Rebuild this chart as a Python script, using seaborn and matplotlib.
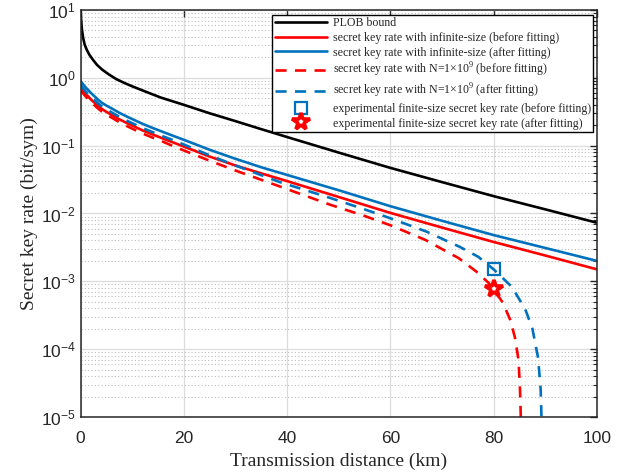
import numpy as np
import pandas as pd
import matplotlib
matplotlib.use("Agg")
import matplotlib.pyplot as plt
import seaborn as sns
from matplotlib.ticker import LogLocator, FixedLocator, NullFormatter

# ---------------- data ----------------
plob_d = [0, 0.1, 0.25, 0.5, 0.8, 1.2, 1.7, 2.4, 3.2, 4.2, 5.5, 7, 8.5, 10, 12.5, 15.6, 20, 25, 30, 35,
          40, 50, 60, 70, 80, 90, 100]
plob_r = [10, 7.5, 5.3, 3.9, 3.1, 2.6, 2.2, 1.85, 1.55, 1.32, 1.12, 0.95, 0.84, 0.75, 0.63, 0.51, 0.40,
          0.30, 0.23, 0.175, 0.134, 0.079, 0.047, 0.029, 0.018, 0.0115, 0.0073]

inf_d = [0, 0.5, 1, 1.5, 2, 2.7, 3.4, 4.2, 5, 6, 7.5, 9, 10.5, 12, 14, 16, 18, 20, 25, 30, 35, 40, 50,
         60, 70, 80, 90, 100]
inf_before = [0.72, 0.64, 0.58, 0.53, 0.48, 0.43, 0.385, 0.345, 0.315, 0.285, 0.245, 0.215, 0.19, 0.168,
              0.146, 0.127, 0.111, 0.097, 0.069, 0.051, 0.039, 0.030, 0.0175, 0.0102, 0.0062, 0.0038,
              0.0024, 0.0015]
inf_after = [0.90, 0.80, 0.72, 0.66, 0.60, 0.535, 0.475, 0.425, 0.39, 0.355, 0.305, 0.268, 0.237, 0.21,
             0.182, 0.159, 0.139, 0.122, 0.087, 0.064, 0.048, 0.037, 0.022, 0.0128, 0.0078, 0.0048,
             0.0031, 0.0020]

fin_b_d = [0, 0.5, 1, 1.5, 2, 2.7, 3.4, 4.2, 5, 6, 7.5, 9, 10.5, 12, 14, 16, 18, 20, 25, 30, 38.6, 48.3,
           55, 60, 66.7, 73.2, 76.6, 79, 80, 81.8, 83.2, 84.1, 84.8, 85.1, 85.25]
fin_before = [0.66, 0.59, 0.53, 0.485, 0.44, 0.395, 0.352, 0.315, 0.288, 0.26, 0.222, 0.194, 0.171, 0.151,
              0.131, 0.114, 0.098, 0.085, 0.060, 0.043, 0.025, 0.0135, 0.0092, 0.0067, 0.0041, 0.0022,
              0.0014, 0.00095, 0.00076, 0.00048, 0.00027, 0.00015, 0.00007, 0.000025, 0.00001]

fin_a_d = [0, 0.5, 1, 1.5, 2, 2.7, 3.4, 4.2, 5, 6, 7.5, 9, 10.5, 12, 14, 16, 18, 20, 25, 30, 38.6, 48.3,
           55, 60, 67, 73.5, 77, 80, 83.5, 86.1, 87.5, 88.6, 89.1, 89.25]
fin_after = [0.78, 0.70, 0.63, 0.575, 0.525, 0.47, 0.42, 0.375, 0.345, 0.31, 0.267, 0.233, 0.206, 0.182,
             0.158, 0.137, 0.12, 0.104, 0.072, 0.051, 0.029, 0.017, 0.0115, 0.0085, 0.0054, 0.0032,
             0.0023, 0.0015, 0.00083, 0.00039, 0.0002, 0.000074, 0.000025, 0.00001]

exp_d = [80]
exp_before = [1.5e-3]
exp_after = [7.6e-4]

labels = [
    "PLOB bound",
    "secret key rate with infinite-size (before fitting)",
    "secret key rate with infinite-size (after fitting)",
    "secret key rate with N=1×10$^{\\mathdefault{9}}$ (before fitting)",
    "secret key rate with N=1×10$^{\\mathdefault{9}}$ (after fitting)",
    "experimental finite-size secret key rate (before fitting)",
    "experimental finite-size secret key rate (after fitting)",
]

RED = "#FF0000"
BLUE = "#0072BD"
BLACK = "#000000"

# ---------------- plotting ----------------
sns.set_style("white")
plt.rcParams["font.family"] = ["Liberation Sans", "DejaVu Sans"]

fig = plt.figure(figsize=(6.32, 4.76), dpi=100)
ax = fig.add_axes([0.1274, 0.124, 0.8172, 0.855])

lw = 1.9
dash = (0, (4.2, 3.2))

sns.lineplot(x=plob_d, y=plob_r, color=BLACK, lw=lw, ax=ax, label=labels[0])
sns.lineplot(x=inf_d, y=inf_before, color=RED, lw=lw, ax=ax, label=labels[1])
sns.lineplot(x=inf_d, y=inf_after, color=BLUE, lw=lw, ax=ax, label=labels[2])
sns.lineplot(x=fin_b_d, y=fin_before, color=RED, lw=lw, linestyle=dash, ax=ax, label=labels[3])
sns.lineplot(x=fin_a_d, y=fin_after, color=BLUE, lw=lw, linestyle=dash, ax=ax, label=labels[4])
sns.lineplot(x=exp_d, y=exp_before, color=BLUE, marker="s", markersize=8, markerfacecolor="none",
             markeredgecolor=BLUE, markeredgewidth=1.6, linestyle="none", ax=ax, label=labels[5])
sns.lineplot(x=exp_d, y=exp_after, color=RED, marker="*", markersize=13, markerfacecolor="white",
             markeredgecolor=RED, markeredgewidth=2.6, linestyle="none", ax=ax, label=labels[6])

ax.set_yscale("log")
ax.set_xlim(0, 100)
ax.set_ylim(1e-5, 10)
ax.xaxis.set_major_locator(FixedLocator([0, 20, 40, 60, 80, 100]))
ax.yaxis.set_major_locator(LogLocator(base=10, numticks=10))
ax.yaxis.set_minor_locator(LogLocator(base=10, subs=np.arange(2, 10), numticks=20))
ax.yaxis.set_minor_formatter(NullFormatter())

ax.grid(True, which="major", axis="both", color="#dcdcdc", lw=0.9, ls="-")
ax.grid(True, which="minor", axis="y", color="#bdbdbd", lw=0.8, ls=(0, (1, 2)))
ax.set_axisbelow(True)

for s in ax.spines.values():
    s.set_color("#262626")
    s.set_linewidth(1.1)
ax.tick_params(which="both", direction="in", top=True, right=True, colors="#262626",
               labelcolor="#262626", labelsize=12.5)
ax.tick_params(which="major", length=5, width=1)
ax.tick_params(which="minor", length=3, width=0.8)
ax.tick_params(axis="x", pad=10)

ax.set_xlabel("Transmission distance (km)", family="Liberation Serif", fontsize=14, color="#262626",
              labelpad=5)
ax.set_ylabel("Secret key rate (bit/sym)", family="Liberation Serif", fontsize=14, color="#262626",
              labelpad=2)

handles, labs = ax.get_legend_handles_labels()
leg = ax.legend(handles, labs, loc="upper right", bbox_to_anchor=(0.993, 0.988),
                prop={"family": "Liberation Serif", "size": 8.6}, frameon=True, fancybox=False,
                edgecolor="#000000", framealpha=1, handlelength=4.4, handletextpad=0.45,
                labelspacing=0.22, borderpad=0.2, borderaxespad=0)
leg.get_frame().set_linewidth(1.0)

fig.savefig("out.png", dpi=100)
